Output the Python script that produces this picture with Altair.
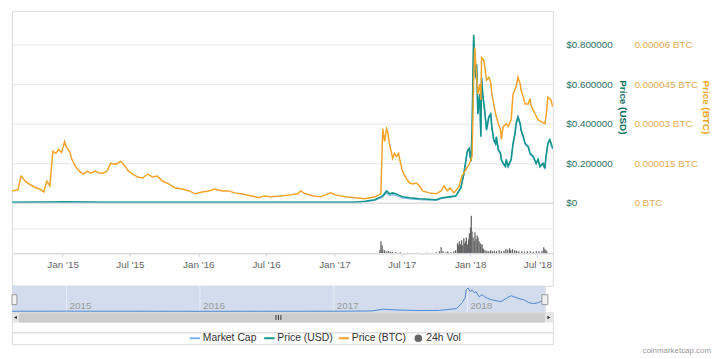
import altair as alt
import pandas as pd

FONT = "Liberation Sans, Arial, sans-serif"

# ---------------- data ----------------
btc_dates = [
    "2014-08-11", "2014-08-14", "2014-08-19", "2014-08-31", "2014-09-16", "2014-09-24", "2014-10-07", "2014-10-28", "2014-11-12", "2014-11-23",
    "2014-12-01", "2014-12-09", "2014-12-17", "2014-12-25", "2015-01-01", "2015-01-09", "2015-01-17", "2015-01-22", "2015-01-27", "2015-02-01",
    "2015-02-04", "2015-02-14", "2015-02-25", "2015-03-07", "2015-03-18", "2015-03-26", "2015-04-08", "2015-04-18", "2015-04-29", "2015-05-09",
    "2015-05-19", "2015-05-30", "2015-06-07", "2015-06-14", "2015-06-25", "2015-07-05", "2015-07-16", "2015-07-29", "2015-08-11", "2015-08-24",
    "2015-09-06", "2015-09-19", "2015-10-02", "2015-10-20", "2015-11-05", "2015-11-23", "2015-12-12", "2015-12-28", "2016-01-15", "2016-02-02",
    "2016-02-17", "2016-03-07", "2016-03-25", "2016-04-10", "2016-04-28", "2016-05-24", "2016-06-14", "2016-06-27", "2016-07-15", "2016-08-10",
    "2016-09-05", "2016-09-24", "2016-10-01", "2016-10-14", "2016-11-04", "2016-11-23", "2016-12-06", "2016-12-19", "2017-01-01", "2017-01-27",
    "2017-02-22", "2017-03-20", "2017-04-15", "2017-05-01", "2017-05-06", "2017-05-11", "2017-05-16", "2017-05-19", "2017-05-24", "2017-05-30",
    "2017-06-01", "2017-06-06", "2017-06-11", "2017-06-17", "2017-06-19", "2017-06-27", "2017-07-08", "2017-07-16", "2017-07-24", "2017-08-03",
    "2017-08-11", "2017-08-19", "2017-09-06", "2017-09-24", "2017-10-07", "2017-10-15", "2017-10-23", "2017-10-31", "2017-11-10", "2017-11-23",
    "2017-12-01", "2017-12-12", "2017-12-20", "2017-12-28", "2018-01-01", "2018-01-04", "2018-01-06", "2018-01-12", "2018-01-17", "2018-01-20",
    "2018-01-22", "2018-01-28", "2018-02-02", "2018-02-04", "2018-02-10", "2018-02-15", "2018-02-18", "2018-02-23", "2018-02-28", "2018-03-02",
    "2018-03-07", "2018-03-13", "2018-03-15", "2018-03-20", "2018-03-28", "2018-04-02", "2018-04-10", "2018-04-15", "2018-04-23", "2018-04-28",
    "2018-05-04", "2018-05-06", "2018-05-12", "2018-05-17", "2018-05-25", "2018-05-30", "2018-06-01", "2018-06-07", "2018-06-12", "2018-06-20",
    "2018-06-28", "2018-07-08", "2018-07-11", "2018-07-16", "2018-07-24", "2018-07-29",
]
btc_price = [
    7.5e-6, 9.0e-6, 5.25e-6, 4.5e-6, 4.9e-6, 10.1e-6, 7.9e-6, 6.0e-6, 5.25e-6, 4.1e-6,
    8.25e-6, 6.4e-6, 19.5e-6, 18.75e-6, 20.25e-6, 19.1e-6, 23.25e-6, 21.0e-6, 20.25e-6, 18.75e-6,
    16.9e-6, 13.9e-6, 12.0e-6, 10.9e-6, 12.0e-6, 11.25e-6, 12.0e-6, 11.25e-6, 11.25e-6, 12.0e-6,
    15.0e-6, 14.6e-6, 15.0e-6, 15.75e-6, 13.9e-6, 12.0e-6, 10.9e-6, 9.75e-6, 9.4e-6, 10.9e-6,
    9.75e-6, 10.1e-6, 8.25e-6, 7.1e-6, 5.6e-6, 5.25e-6, 4.5e-6, 3.4e-6, 4.1e-6, 4.5e-6,
    5.25e-6, 4.5e-6, 4.5e-6, 3.75e-6, 3.4e-6, 2.6e-6, 1.9e-6, 2.6e-6, 2.25e-6, 2.6e-6,
    3.0e-6, 3.4e-6, 4.5e-6, 3.4e-6, 2.6e-6, 2.25e-6, 3.0e-6, 3.75e-6, 3.0e-6, 2.25e-6,
    1.9e-6, 1.5e-6, 2.25e-6, 3.4e-6, 28.1e-6, 23.25e-6, 28.1e-6, 27.0e-6, 22.1e-6, 18.4e-6,
    16.9e-6, 18.75e-6, 17.6e-6, 18.75e-6, 16.9e-6, 12.0e-6, 9.0e-6, 7.5e-6, 7.1e-6, 7.5e-6,
    6.4e-6, 4.5e-6, 3.75e-6, 3.4e-6, 4.5e-6, 6.4e-6, 4.5e-6, 5.6e-6, 3.75e-6, 6.0e-6,
    10.1e-6, 12.75e-6, 14.6e-6, 17.6e-6, 46.5e-6, 58.9e-6, 54.0e-6, 41.25e-6, 45.0e-6, 39.0e-6,
    55.1e-6, 54.0e-6, 48.75e-6, 46.5e-6, 47.6e-6, 45.75e-6, 41.25e-6, 37.5e-6, 33.75e-6, 32.6e-6,
    30.0e-6, 27.75e-6, 24.0e-6, 28.9e-6, 30.0e-6, 28.9e-6, 31.5e-6, 41.25e-6, 43.9e-6, 47.6e-6,
    45.0e-6, 42.75e-6, 40.1e-6, 37.5e-6, 37.5e-6, 39.4e-6, 37.1e-6, 35.25e-6, 33.75e-6, 31.5e-6,
    30.75e-6, 30.0e-6, 32.6e-6, 40.1e-6, 39.0e-6, 36.4e-6,
]

usd_dates = [
    "2014-08-11", "2014-12-17", "2015-01-17", "2015-04-29", "2016-01-15", "2016-10-01", "2017-02-22", "2017-03-20", "2017-04-15", "2017-05-01",
    "2017-05-06", "2017-05-16", "2017-05-24", "2017-06-01", "2017-06-11", "2017-06-27", "2017-07-16", "2017-08-11", "2017-09-24", "2017-10-10",
    "2017-10-28", "2017-11-15", "2017-11-23", "2017-11-28", "2017-12-06", "2017-12-15", "2017-12-20", "2017-12-25", "2017-12-28", "2018-01-01",
    "2018-01-06", "2018-01-09", "2018-01-12", "2018-01-17", "2018-01-20", "2018-01-22", "2018-01-25", "2018-01-30", "2018-02-04", "2018-02-10",
    "2018-02-15", "2018-02-18", "2018-02-23", "2018-02-28", "2018-03-02", "2018-03-07", "2018-03-13", "2018-03-15", "2018-03-20", "2018-03-26",
    "2018-03-28", "2018-04-02", "2018-04-10", "2018-04-15", "2018-04-20", "2018-04-23", "2018-04-28", "2018-05-04", "2018-05-06", "2018-05-12",
    "2018-05-17", "2018-05-25", "2018-05-30", "2018-06-07", "2018-06-15", "2018-06-20", "2018-06-25", "2018-07-03", "2018-07-08", "2018-07-11",
    "2018-07-16", "2018-07-21", "2018-07-29",
]
usd_price = [
    0.002, 0.004, 0.005, 0.0025, 0.002, 0.003, 0.003, 0.0075, 0.015, 0.03,
    0.035, 0.06, 0.045, 0.05, 0.045, 0.03, 0.025, 0.02, 0.015, 0.025,
    0.03, 0.035, 0.06, 0.075, 0.145, 0.26, 0.275, 0.21, 0.385, 0.85,
    0.635, 0.70, 0.45, 0.55, 0.335, 0.635, 0.55, 0.47, 0.37, 0.435,
    0.45, 0.385, 0.32, 0.30, 0.335, 0.27, 0.25, 0.22, 0.20, 0.185,
    0.22, 0.185, 0.22, 0.30, 0.35, 0.40, 0.435, 0.40, 0.37, 0.335,
    0.30, 0.285, 0.25, 0.235, 0.20, 0.22, 0.185, 0.20, 0.175, 0.235,
    0.30, 0.32, 0.275,
]
# market cap, millions USD (same dates as usd_dates)
market_cap = [
    1.5, 3, 4, 2, 1.5, 2.4, 2.4, 5, 10, 20,
    24, 40, 30, 33, 30, 20, 16, 13, 10, 18,
    22, 26, 46, 58, 114, 205, 218, 166, 306, 670,
    500, 552, 356, 436, 266, 502, 436, 372, 292, 344,
    356, 304, 252, 236, 264, 212, 196, 172, 156, 144,
    172, 144, 172, 236, 276, 316, 344, 316, 292, 264,
    236, 224, 196, 184, 156, 172, 144, 156, 136, 184,
    236, 252, 216,
]

vol_dates = [
    "2017-05-03", "2017-05-06", "2017-05-09", "2017-05-11", "2017-05-16", "2017-05-22", "2017-05-27", "2017-06-01", "2017-06-06", "2017-06-14",
    "2017-06-27", "2017-07-16", "2017-08-11", "2017-09-06", "2017-10-02", "2017-10-10", "2017-10-15", "2017-10-20", "2017-10-28", "2017-11-02",
    "2017-11-10", "2017-11-18", "2017-11-23", "2017-11-28", "2017-12-01", "2017-12-03", "2017-12-06", "2017-12-09", "2017-12-12", "2017-12-15",
    "2017-12-17", "2017-12-20", "2017-12-22", "2017-12-25", "2017-12-28", "2017-12-30", "2018-01-02", "2018-01-04", "2018-01-06", "2018-01-09",
    "2018-01-12", "2018-01-14", "2018-01-17", "2018-01-20", "2018-01-22", "2018-01-25", "2018-01-28", "2018-01-30", "2018-02-02", "2018-02-04",
    "2018-02-06", "2018-02-10", "2018-02-15", "2018-02-20", "2018-02-25", "2018-03-02", "2018-03-07", "2018-03-13", "2018-03-20", "2018-03-26",
    "2018-04-02", "2018-04-07", "2018-04-12", "2018-04-17", "2018-04-20", "2018-04-25", "2018-05-01", "2018-05-06", "2018-05-12", "2018-05-20",
    "2018-05-27", "2018-06-04", "2018-06-12", "2018-06-20", "2018-06-28", "2018-07-05", "2018-07-13", "2018-07-18", "2018-07-21", "2018-07-24",
    "2018-07-26",
]
volume_24h = [
    3, 12, 8, 4, 3, 2, 2, 1.5, 1.5, 1,
    1, 0.5, 0.5, 0.5, 1, 2, 6, 2, 1, 2,
    1, 2, 3, 10, 8, 12, 9, 13, 8, 15,
    10, 12, 16, 9, 14, 20, 26, 38, 22, 16,
    12, 21, 14, 18, 16, 12, 10, 8, 9, 5,
    4, 3, 2.5, 2, 3, 2, 2.5, 2, 3, 2,
    2.5, 4, 3.5, 5, 3, 4, 3, 2.5, 2, 2,
    1.5, 2, 2, 1.5, 2, 2, 2.5, 6, 4, 3,
    2,
]

nav_dates = [
    "2014-08-05", "2015-01-01", "2016-01-01", "2017-01-01", "2017-04-15", "2017-05-16", "2017-06-20", "2017-08-24", "2017-10-17", "2017-12-02",
    "2017-12-10", "2017-12-18", "2017-12-26", "2017-12-29", "2018-01-03", "2018-01-09", "2018-01-14", "2018-01-20", "2018-01-25", "2018-02-02",
    "2018-02-10", "2018-02-21", "2018-03-07", "2018-03-20", "2018-04-03", "2018-04-16", "2018-04-30", "2018-05-08", "2018-05-22", "2018-06-04",
    "2018-06-18", "2018-07-01", "2018-07-15", "2018-07-25", "2018-07-31",
]
nav_cap = [
    8, 10, 6, 8, 15, 60, 40, 25, 30, 75,
    150, 225, 350, 550, 600, 500, 550, 475, 500, 375,
    425, 350, 300, 275, 250, 325, 400, 375, 325, 300,
    225, 200, 225, 275, 325,
]
nav_year_dates = ["2015-01-01", "2016-01-01", "2017-01-01", "2018-01-01"]
nav_year_labels = ["2015", "2016", "2017", "2018"]

tick_dates = ["2015-01-01", "2015-07-01", "2016-01-01", "2016-07-01",
              "2017-01-01", "2017-07-01", "2018-01-01", "2018-07-01"]
usd_ticks = [0, 0.2, 0.4, 0.6, 0.8]
btc_ticks = [0, 0.000015, 0.00003, 0.000045, 0.00006]

legend_labels = ["Market Cap", "Price (USD)", "Price (BTC)", "24h Vol"]
C_CAP, C_USD, C_BTC, C_VOL = "#7cb5ec", "#12958a", "#f2a32a", "#666666"
legend_colors = [C_CAP, C_USD, C_BTC, C_VOL]


def dt(s):
    y, m, d = (int(v) for v in s.split("-"))
    return alt.DateTime(year=y, month=m, date=d, utc=True)


btc_df = pd.DataFrame({"date": btc_dates, "btc": btc_price})
usd_df = pd.DataFrame({"date": usd_dates, "usd": usd_price, "cap": market_cap})
vol_df = pd.DataFrame({"date": vol_dates, "vol": volume_24h})
nav_df = pd.DataFrame({"date": nav_dates, "cap": nav_cap})
year_df = pd.DataFrame({"date": nav_year_dates, "label": nav_year_labels})
leg_df = pd.DataFrame({"label": legend_labels, "color": legend_colors})
one = pd.DataFrame({"a": [0]})

W = 547
main_scale = alt.Scale(type="utc", domain=[dt("2014-08-31"), dt("2018-07-29")])
x_hidden = alt.X("date:T", scale=main_scale, axis=None)

# ---------------- price panel ----------------
cap_line = alt.Chart(usd_df).mark_line(color=C_CAP, strokeWidth=1.3, clip=True).encode(
    x=x_hidden,
    y=alt.Y("cap:Q", scale=alt.Scale(domain=[0, 776], nice=False), axis=None),
)
usd_line = alt.Chart(usd_df).mark_line(color=C_USD, strokeWidth=1.6, clip=True).encode(
    x=x_hidden,
    y=alt.Y("usd:Q", scale=alt.Scale(domain=[0, 0.97], nice=False),
            axis=alt.Axis(orient="right", values=usd_ticks,
                          labelExpr="datum.value == 0 ? '$0' : '$' + format(datum.value, '.6f')",
                          labelColor="#2a6e64", labelFont=FONT, labelFontSize=10, labelPadding=13,
                          ticks=False, domain=False, grid=True, gridColor="#e6e6e6",
                          title="Price (USD)", titleColor="#0b6b5b", titleFont=FONT,
                          titleFontSize=10, titleFontWeight="bold", titlePadding=5)),
)
btc_line = alt.Chart(btc_df).mark_line(color=C_BTC, strokeWidth=1.5, clip=True).encode(
    x=x_hidden,
    y=alt.Y("btc:Q", scale=alt.Scale(domain=[0, 0.00007275], nice=False),
            axis=alt.Axis(orient="right", offset=80, values=btc_ticks,
                          labelExpr="format(datum.value, '.6~f') + ' BTC'",
                          labelColor="#e0ac55", labelFont=FONT, labelFontSize=10, labelPadding=2,
                          ticks=False, domain=False, grid=False,
                          title="Price (BTC)", titleColor="#eba51c", titleFont=FONT,
                          titleFontSize=10, titleFontWeight="bold", titlePadding=3)),
)
price = alt.layer(cap_line, usd_line, btc_line).resolve_scale(y="independent").properties(
    width=W, height=194)

# ---------------- volume panel ----------------
vol = alt.Chart(vol_df).mark_bar(color=C_VOL, size=1.3, clip=True).encode(
    x=alt.X("date:T", scale=main_scale,
            axis=alt.Axis(values=[dt(s) for s in tick_dates],
                          labelExpr="utcFormat(datum.value, \"%b '%y\")",
                          labelFont=FONT, labelFontSize=10, labelColor="#666666",
                          tickColor="#ccd6eb", domainColor="#ccd6eb", tickSize=3,
                          labelPadding=3, grid=False, title=None)),
    y=alt.Y("vol:Q", scale=alt.Scale(domain=[0, 51], nice=False),
            axis=alt.Axis(values=[25.5], grid=True, gridColor="#e6e6e6", labels=False,
                          ticks=False, domain=False, title=None)),
).properties(width=W, height=51)


def spacer(h):
    return alt.Chart(one).mark_point(opacity=0).encode(
        x=alt.value(0), y=alt.value(0)).properties(width=W, height=h)


# ---------------- navigator ----------------
NW = 539
nav_scale = alt.Scale(type="utc", domain=[dt("2014-08-05"), dt("2018-08-01")])
nav_x = alt.X("date:T", scale=nav_scale, axis=None)
nav_bg = alt.Chart(one).mark_rect(color="#d3dcec").encode(
    x=alt.value(0), x2=alt.value(NW), y=alt.value(0), y2=alt.value(27))
nav_grid = alt.Chart(year_df).mark_rule(color="#e9edf5", strokeWidth=1).encode(x=nav_x)
nav_text = alt.Chart(year_df).mark_text(align="left", baseline="bottom", dx=3, font=FONT,
                                        fontSize=10, color="#9a9a9a").encode(
    x=nav_x, y=alt.value(25), text="label:N")
nav_line = alt.Chart(nav_df).mark_line(color="#4d88cf", strokeWidth=1, clip=True).encode(
    x=nav_x, y=alt.Y("cap:Q", scale=alt.Scale(domain=[-25, 650], nice=False), axis=None))
track = alt.Chart(one).mark_rect(color="#e6e6e6").encode(
    x=alt.value(0), x2=alt.value(W), y=alt.value(27), y2=alt.value(37))
bar = alt.Chart(one).mark_rect(color="#cccccc").encode(
    x=alt.value(7), x2=alt.value(NW), y=alt.value(27), y2=alt.value(37))
grips = [
    alt.Chart(one).mark_rule(color="#333333", strokeWidth=1).encode(
        x=alt.value(gx), y=alt.value(29.5), y2=alt.value(34.5))
    for gx in (267, 269.5, 272)
]
arr_l = alt.Chart(one).mark_point(shape="triangle-left", filled=True, size=12, color="#333333",
                                  opacity=1).encode(x=alt.value(3.5), y=alt.value(32))
arr_r = alt.Chart(one).mark_point(shape="triangle-right", filled=True, size=12, color="#333333",
                                  opacity=1).encode(x=alt.value(543), y=alt.value(32))
h_l = alt.Chart(one).mark_rect(fill="#f2f2f2", stroke="#999999", strokeWidth=1).encode(
    x=alt.value(0), x2=alt.value(5), y=alt.value(9), y2=alt.value(19))
h_r = alt.Chart(one).mark_rect(fill="#f2f2f2", stroke="#999999", strokeWidth=1).encode(
    x=alt.value(536), x2=alt.value(542), y=alt.value(9), y2=alt.value(19))
nav = alt.layer(nav_bg, nav_grid, nav_text, nav_line, track, bar, *grips, arr_l, arr_r,
                h_l, h_r).resolve_scale(y="independent").properties(width=NW, height=27)

# ---------------- legend ----------------
leg_x = alt.X("label:N", scale=alt.Scale(type="point", domain=legend_labels, range=[185, 411],
                                         padding=0), axis=None)
leg_color = alt.Color("color:N", scale=None)
leg_lines = alt.Chart(leg_df).transform_filter("datum.label != '24h Vol'").mark_point(
    shape="stroke", filled=False, strokeWidth=2, size=110, opacity=1).encode(
    x=leg_x, y=alt.value(6), color=leg_color)
leg_dot = alt.Chart(leg_df).transform_filter("datum.label == '24h Vol'").mark_point(
    shape="circle", filled=True, size=60, opacity=1).encode(
    x=leg_x, y=alt.value(6), color=leg_color)
leg_text = alt.Chart(leg_df).mark_text(align="left", baseline="middle", dx=8, font=FONT,
                                       fontSize=10.5, color="#333333").encode(
    x=leg_x, y=alt.value(6), text="label:N")
credit = alt.Chart(one).mark_text(text="coinmarketcap.com", align="right", baseline="middle",
                                  font=FONT, fontSize=8, color="#999999").encode(
    x=alt.value(707), y=alt.value(19))
legend = alt.layer(leg_lines, leg_dot, leg_text, credit).properties(width=W, height=12)

chart = alt.vconcat(price, vol, spacer(33), nav, spacer(20), legend,
                    spacing=0, bounds="flush").properties(
    padding={"left": 0, "top": 0, "right": 0, "bottom": 0}
).configure_view(stroke=None).configure(background="white")

chart.save("out.html", embed_options={"renderer": "svg", "actions": False})
